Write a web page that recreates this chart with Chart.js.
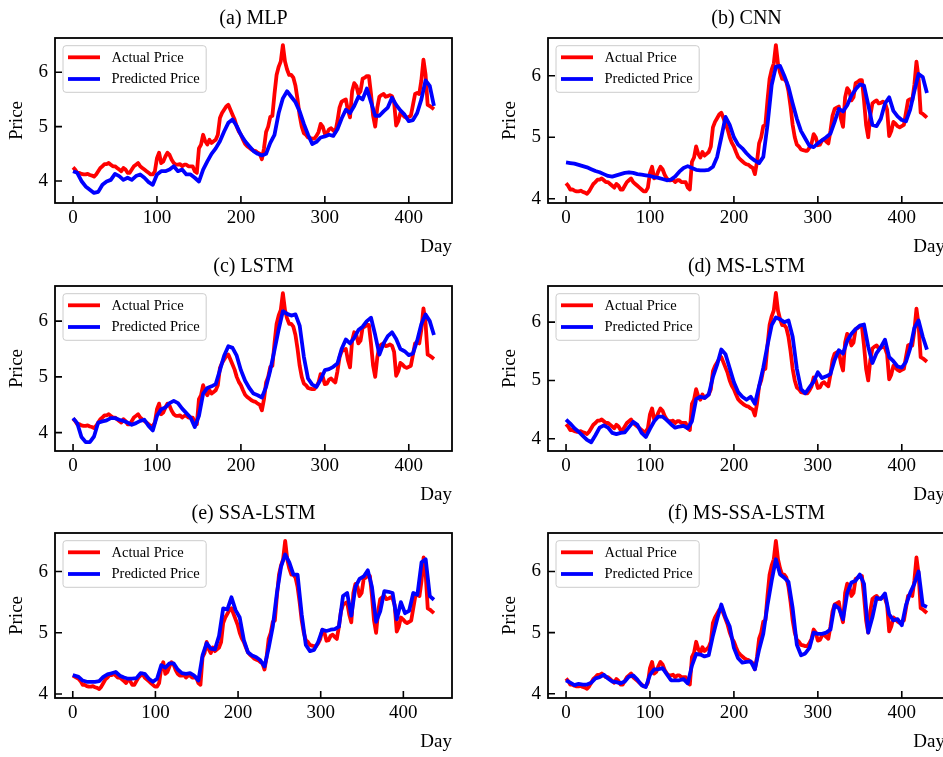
<!DOCTYPE html>
<html>
<head>
<meta charset="utf-8">
<script src="https://cdn.jsdelivr.net/npm/chart.js@4.4.1/dist/chart.umd.min.js"></script>
<style>
  html, body { margin: 0; padding: 0; background: #fff; overflow: hidden; }
  #fig { position: relative; width: 943px; height: 757px; overflow: hidden; }
  #fig canvas { position: absolute; }
</style>
</head>
<body>
<div id="fig"></div>
<script>
// actual price read every 2.5 days, predictions every 5 days
const actualDays = Array.from({ length: 173 }, (_, i) => i * 2.5);
const predDays = Array.from({ length: 87 }, (_, i) => i * 5);

const actualPrice = [
  4.25, 4.21, 4.15, 4.15, 4.13, 4.12, 4.12, 4.13, 4.11, 4.10,
  4.08, 4.12, 4.18, 4.24, 4.27, 4.31, 4.31, 4.33, 4.30, 4.27,
  4.27, 4.24, 4.21, 4.18, 4.24, 4.21, 4.15, 4.15, 4.21, 4.27,
  4.30, 4.33, 4.27, 4.24, 4.21, 4.18, 4.15, 4.12, 4.12, 4.18,
  4.42, 4.52, 4.33, 4.36, 4.45, 4.52, 4.48, 4.39, 4.33, 4.30,
  4.30, 4.31, 4.27, 4.30, 4.30, 4.27, 4.27, 4.27, 4.18, 4.15,
  4.60, 4.67, 4.85, 4.73, 4.67, 4.76, 4.70, 4.73, 4.76, 4.85,
  5.16, 5.25, 5.31, 5.37, 5.40, 5.31, 5.22, 5.13, 5.00, 4.91,
  4.85, 4.76, 4.68, 4.64, 4.61, 4.58, 4.56, 4.55, 4.52, 4.50,
  4.40, 4.60, 4.90, 5.00, 5.18, 5.20, 5.60, 5.95, 6.10, 6.20,
  6.50, 6.20, 6.05, 5.95, 5.95, 5.90, 5.75, 5.50, 5.20, 5.00,
  4.88, 4.85, 4.80, 4.79, 4.78, 4.78, 4.83, 4.90, 5.05, 5.00,
  4.87, 4.88, 4.95, 4.97, 4.93, 4.90, 5.10, 5.35, 5.46, 5.48,
  5.50, 5.30, 5.17, 5.65, 5.80, 5.75, 5.60, 5.65, 5.88, 5.90,
  5.93, 5.93, 5.60, 5.20, 5.00, 5.35, 5.55, 5.58, 5.60, 5.55,
  5.56, 5.58, 5.56, 5.45, 5.02, 5.10, 5.25, 5.22, 5.18, 5.16,
  5.18, 5.20, 5.40, 5.60, 5.62, 5.60, 5.85, 6.23, 5.96, 5.40,
  5.38, 5.35, 5.32
];

const mlpPred = [
  4.18, 4.15, 4.00, 3.90, 3.84, 3.78, 3.80, 3.93, 3.99, 4.02,
  4.13, 4.09, 4.02, 4.06, 4.02, 4.09, 4.12, 4.06, 3.98, 3.93,
  4.12, 4.18, 4.18, 4.21, 4.27, 4.18, 4.21, 4.12, 4.12, 4.06,
  3.99, 4.21, 4.36, 4.50, 4.60, 4.73, 4.91, 5.07, 5.13, 5.01,
  4.85, 4.73, 4.64, 4.55, 4.50, 4.47, 4.50, 4.70, 4.85, 5.25,
  5.52, 5.65, 5.55, 5.45, 5.28, 5.05, 4.85, 4.68, 4.72, 4.80,
  4.82, 4.85, 4.83, 4.95, 5.15, 5.31, 5.25, 5.38, 5.55, 5.50,
  5.70, 5.45, 5.20, 5.20, 5.28, 5.35, 5.53, 5.40, 5.30, 5.22,
  5.10, 5.12, 5.25, 5.50, 5.85, 5.75, 5.38
];

const cnnPred = [
  4.59, 4.58, 4.57, 4.55, 4.53, 4.51, 4.48, 4.45, 4.43, 4.40,
  4.37, 4.36, 4.38, 4.40, 4.42, 4.43, 4.42, 4.40, 4.39, 4.38,
  4.37, 4.35, 4.34, 4.32, 4.30, 4.31, 4.36, 4.44, 4.50, 4.53,
  4.50, 4.47, 4.46, 4.46, 4.47, 4.52, 4.68, 5.00, 5.33, 5.20,
  5.00, 4.88, 4.82, 4.74, 4.67, 4.62, 4.58, 4.68, 5.20, 5.85,
  6.15, 6.16, 6.00, 5.82, 5.55, 5.30, 5.10, 4.98, 4.86, 4.84,
  4.90, 4.95, 5.00, 5.06, 5.25, 5.46, 5.42, 5.52, 5.68, 5.78,
  5.86, 5.84, 5.53, 5.20, 5.18, 5.30, 5.55, 5.65, 5.43, 5.34,
  5.28, 5.26, 5.45, 5.75, 6.03, 5.98, 5.72
];

const lstmPred = [
  4.26, 4.17, 3.92, 3.83, 3.83, 3.93, 4.18, 4.20, 4.22, 4.26,
  4.26, 4.23, 4.21, 4.18, 4.14, 4.17, 4.21, 4.23, 4.12, 4.04,
  4.30, 4.42, 4.45, 4.53, 4.57, 4.53, 4.43, 4.35, 4.27, 4.10,
  4.30, 4.70, 4.80, 4.83, 4.87, 5.12, 5.38, 5.55, 5.52, 5.38,
  5.12, 4.93, 4.80, 4.70, 4.67, 4.63, 4.82, 5.12, 5.48, 5.85,
  6.18, 6.13, 6.10, 6.12, 5.92, 5.36, 4.97, 4.86, 4.82, 4.95,
  5.12, 5.14, 5.18, 5.24, 5.50, 5.67, 5.60, 5.70, 5.84, 5.90,
  6.00, 6.06, 5.75, 5.40, 5.60, 5.73, 5.80, 5.68, 5.50, 5.46,
  5.39, 5.42, 5.65, 5.95, 6.12, 6.00, 5.75
];

const msLstmPred = [
  4.33, 4.26, 4.18, 4.12, 4.05, 3.98, 3.94, 4.06, 4.19, 4.23,
  4.19, 4.10, 4.08, 4.10, 4.11, 4.20, 4.29, 4.24, 4.10, 4.03,
  4.17, 4.30, 4.38, 4.38, 4.32, 4.25, 4.19, 4.21, 4.22, 4.18,
  4.30, 4.68, 4.72, 4.70, 4.76, 5.06, 5.27, 5.53, 5.45, 5.21,
  4.97, 4.80, 4.72, 4.67, 4.72, 4.60, 4.90, 5.22, 5.60, 5.95,
  6.08, 6.05, 6.00, 6.03, 5.75, 5.20, 4.85, 4.78, 4.88, 4.98,
  5.14, 5.04, 5.07, 5.11, 5.35, 5.52, 5.46, 5.68, 5.80, 5.88,
  5.94, 5.96, 5.58, 5.30, 5.47, 5.57, 5.70, 5.40, 5.33, 5.24,
  5.22, 5.32, 5.55, 5.90, 6.03, 5.75, 5.53
];

// SSA-LSTM panel runs 7 days longer: first value at day 0, the rest shifted by 7 days
const ssaShift = 7;
const ssaFirstActual = 4.30;
const ssaLstmPred = [
  4.31,
  4.28, 4.22, 4.20, 4.20, 4.20, 4.21, 4.28, 4.32, 4.34, 4.36,
  4.30, 4.27, 4.25, 4.25, 4.26, 4.34, 4.33, 4.25, 4.20, 4.25,
  4.47, 4.43, 4.50, 4.50, 4.40, 4.34, 4.33, 4.34, 4.30, 4.22,
  4.63, 4.83, 4.74, 4.73, 4.95, 5.40, 5.38, 5.58, 5.37, 5.25,
  4.88, 4.68, 4.63, 4.60, 4.55, 4.45, 4.75, 5.10, 5.65, 6.08,
  6.28, 6.15, 5.95, 5.95, 5.30, 4.80, 4.70, 4.72, 4.85, 5.05,
  5.03, 5.05, 5.06, 5.10, 5.60, 5.65, 5.28, 5.75, 5.88, 5.92,
  6.02, 5.75, 5.18, 5.35, 5.68, 5.67, 5.65, 5.22, 5.50, 5.32,
  5.36, 5.65, 5.62, 6.15, 6.20, 5.60, 5.54
];

const msSsaLstmPred = [
  4.22, 4.18, 4.14, 4.16, 4.15, 4.15, 4.18, 4.25, 4.27, 4.31,
  4.25, 4.20, 4.19, 4.17, 4.20, 4.28, 4.30, 4.23, 4.14, 4.11,
  4.31, 4.40, 4.40, 4.42, 4.32, 4.22, 4.22, 4.22, 4.24, 4.17,
  4.46, 4.65, 4.64, 4.61, 4.63, 4.95, 5.22, 5.46, 5.25, 5.10,
  4.75, 4.58, 4.51, 4.52, 4.53, 4.40, 4.72, 4.98, 5.45, 5.85,
  6.20, 5.95, 5.90, 5.83, 5.40, 4.80, 4.63, 4.66, 4.75, 5.00,
  4.98, 4.98, 5.00, 5.05, 5.45, 5.40, 5.22, 5.65, 5.82, 5.85,
  5.95, 5.80, 5.00, 5.25, 5.57, 5.55, 5.64, 5.30, 5.20, 5.22,
  5.12, 5.45, 5.65, 5.80, 6.00, 5.45, 5.42
];

const dayTicks = [0, 100, 200, 300, 400];
const priceTicks = [4, 5, 6];

const ssaActualDays = [0, ...actualDays.map(d => d + ssaShift)];
const ssaActual = [ssaFirstActual, ...actualPrice];
const ssaPredDays = [0, ...predDays.map(d => d + ssaShift)];

const SERIF = '"Liberation Serif", "Times New Roman", serif';

const panels = [
  { title: "(a) MLP",         ax: actualDays,    act: actualPrice, px: predDays,    pred: mlpPred,       left: 0,   top: 0,   yMin: 3.595, yMax: 6.63,  xMax: 451.5 },
  { title: "(b) CNN",         ax: actualDays,    act: actualPrice, px: predDays,    pred: cnnPred,       left: 493, top: 0,   yMin: 3.93,  yMax: 6.615, xMax: 451.5 },
  { title: "(c) LSTM",        ax: actualDays,    act: actualPrice, px: predDays,    pred: lstmPred,      left: 0,   top: 248, yMin: 3.67,  yMax: 6.63,  xMax: 451.5 },
  { title: "(d) MS-LSTM",     ax: actualDays,    act: actualPrice, px: predDays,    pred: msLstmPred,    left: 493, top: 248, yMin: 3.79,  yMax: 6.62,  xMax: 451.5 },
  { title: "(e) SSA-LSTM",    ax: ssaActualDays, act: ssaActual,   px: ssaPredDays, pred: ssaLstmPred,   left: 0,   top: 495, yMin: 3.935, yMax: 6.63,  xMax: 458.85 },
  { title: "(f) MS-SSA-LSTM", ax: actualDays,    act: actualPrice, px: predDays,    pred: msSsaLstmPred, left: 493, top: 495, yMin: 3.93,  yMax: 6.63,  xMax: 451.5 },
];

function pairs(xs, ys) {
  return ys.map((y, i) => ({ x: xs[i], y: y }));
}

// box round the plot area, ticks pointing inwards
const axesBox = {
  id: 'axesBox',
  afterDatasetsDraw(chart) {
    const { ctx, chartArea: a, scales: { x, y } } = chart;
    ctx.save();
    ctx.strokeStyle = '#000';
    ctx.lineWidth = 1.6;
    ctx.beginPath();
    x.ticks.forEach(t => {
      const px = x.getPixelForValue(t.value);
      ctx.moveTo(px, a.bottom);
      ctx.lineTo(px, a.bottom - 7);
    });
    y.ticks.forEach(t => {
      const py = y.getPixelForValue(t.value);
      ctx.moveTo(a.left, py);
      ctx.lineTo(a.left + 7, py);
    });
    ctx.stroke();
    ctx.lineWidth = 1.8;
    ctx.strokeRect(a.left, a.top, a.right - a.left, a.bottom - a.top);
    ctx.restore();
  }
};

// matplotlib-like legend inside the upper left corner
const frameLegend = {
  id: 'frameLegend',
  afterDatasetsDraw(chart) {
    const { ctx, chartArea: a } = chart;
    const sets = chart.data.datasets;
    ctx.save();
    ctx.font = '14.5px ' + SERIF;
    let tw = 0;
    sets.forEach(ds => { tw = Math.max(tw, ctx.measureText(ds.label).width); });
    const bx = a.left + 8, by = a.top + 7.7, bw = 48.5 + tw + 6.5, bh = 46.6, r = 3;
    ctx.beginPath();
    ctx.moveTo(bx + r, by);
    ctx.lineTo(bx + bw - r, by);
    ctx.arcTo(bx + bw, by, bx + bw, by + r, r);
    ctx.lineTo(bx + bw, by + bh - r);
    ctx.arcTo(bx + bw, by + bh, bx + bw - r, by + bh, r);
    ctx.lineTo(bx + r, by + bh);
    ctx.arcTo(bx, by + bh, bx, by + bh - r, r);
    ctx.lineTo(bx, by + r);
    ctx.arcTo(bx, by, bx + r, by, r);
    ctx.closePath();
    ctx.fillStyle = 'rgba(255,255,255,0.8)';
    ctx.fill();
    ctx.strokeStyle = '#cccccc';
    ctx.lineWidth = 1;
    ctx.stroke();
    ctx.textBaseline = 'middle';
    sets.forEach((ds, i) => {
      const ry = by + 11.6 + i * 21.7;
      ctx.strokeStyle = ds.borderColor;
      ctx.lineWidth = 3.8;
      ctx.beginPath();
      ctx.moveTo(bx + 5, ry);
      ctx.lineTo(bx + 37, ry);
      ctx.stroke();
      ctx.fillStyle = '#000';
      ctx.fillText(ds.label, bx + 48.5, ry + 0.5);
    });
    ctx.restore();
  }
};

const fig = document.getElementById('fig');
const axisFont = { family: SERIF, size: 19 };

panels.forEach(p => {
  const cv = document.createElement('canvas');
  cv.width = 470;
  cv.height = 270;
  cv.style.left = p.left + 'px';
  cv.style.top = p.top + 'px';
  cv.style.width = '470px';
  cv.style.height = '270px';
  fig.appendChild(cv);

  new Chart(cv, {
    type: 'line',
    data: {
      datasets: [
        {
          label: 'Actual Price',
          data: pairs(p.ax, p.act),
          borderColor: '#ff0000',
          borderWidth: 3.8,
          borderJoinStyle: 'round',
          pointRadius: 0,
          order: 2,
        },
        {
          label: 'Predicted Price',
          data: pairs(p.px, p.pred),
          borderColor: '#0000ff',
          borderWidth: 3.8,
          borderJoinStyle: 'round',
          pointRadius: 0,
          order: 1,
        },
      ],
    },
    options: {
      responsive: false,
      animation: false,
      devicePixelRatio: 1,
      layout: { padding: { left: 0, right: 18, top: 0, bottom: 11 } },
      plugins: {
        legend: { display: false },
        tooltip: { enabled: false },
        title: {
          display: true,
          fullSize: false,
          text: p.title,
          color: '#000',
          font: { family: SERIF, size: 20, weight: 'normal' },
          padding: { top: 6.5, bottom: 7.5 },
        },
      },
      scales: {
        x: {
          type: 'linear',
          bounds: 'data',
          min: -21.5,
          max: p.xMax,
          grid: { display: false, drawTicks: false },
          border: { display: false },
          afterBuildTicks: s => { s.ticks = dayTicks.map(v => ({ value: v })); },
          afterFit: s => { s.height = 56; },
          ticks: { padding: 4, color: '#000', font: axisFont, maxRotation: 0, autoSkip: false },
          title: { display: true, text: 'Day', align: 'end', color: '#000', font: axisFont, padding: { top: 0, bottom: 0.6 } },
        },
        y: {
          type: 'linear',
          bounds: 'data',
          min: p.yMin,
          max: p.yMax,
          grid: { display: false, drawTicks: false },
          border: { display: false },
          afterBuildTicks: s => { s.ticks = priceTicks.map(v => ({ value: v })); },
          afterFit: s => { s.width = 55; },
          ticks: { padding: 7, color: '#000', font: axisFont },
          title: { display: true, text: 'Price', color: '#000', font: axisFont, padding: { top: 6, bottom: 0 } },
        },
      },
    },
    plugins: [axesBox, frameLegend],
  });
});
</script>
</body>
</html>
